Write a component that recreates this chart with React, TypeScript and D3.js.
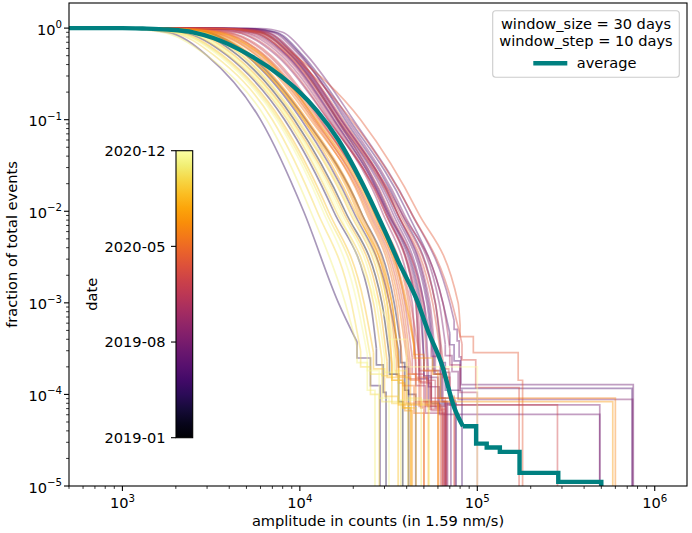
import * as d3 from "d3";

const W = 692;
const H = 533;
const plot = { left: 69, right: 687, top: 3, bottom: 486 };
const FONT = "DejaVu Sans, sans-serif";

// fraction levels at which each window's amplitude was read
const fracLevels = [0.99, 0.9, 0.5, 0.1, 0.01, 0.001];

// [colour position on the date bar, amplitudes at fracLevels, event count N, largest event amplitudes]
type Row = [number, number[], number, number[]];
const windows: Row[] = [
  [0.30, [6000, 8000, 11000, 20000, 42000, 70000], 7800, [74000, 77000, 79000, 81000, 757000]],
  [0.22, [5200, 7400, 10400, 19000, 40000, 64000], 8600, [70000, 74000, 80000, 745000]],
  [0.35, [4800, 7000, 10000, 18500, 38000, 61000], 11300, [66000, 72000, 78000, 750000]],
  [0.55, [4200, 6400, 9500, 17500, 36000, 58000], 13000, [64000, 70000, 283000]],
  [0.62, [3800, 6000, 9400, 22000, 46000, 78000], 7000, [80000, 95000, 170000, 180000]],
  [0.58, [3600, 5800, 9000, 19500, 42000, 72000], 8400, [82000, 98000, 172000]],
  [0.40, [4400, 6600, 9600, 17000, 35000, 54000], 12000, [58000, 64000, 68000]],
  [0.28, [4000, 6200, 9300, 16500, 34000, 52000], 11000, [56000, 62000, 71000]],
  [0.50, [3500, 5600, 8600, 16000, 32000, 49000], 14000, [52000, 58000, 63000]],
  [0.18, [3800, 6000, 9000, 16200, 31500, 48000], 12500, [50000, 55000, 76000]],
  [0.33, [3200, 5300, 8400, 15500, 31000, 47000], 13000, [50000, 60000, 490000]],
  [0.48, [3000, 5000, 8200, 15200, 30000, 46000], 15000, [48000, 55000, 64000]],
  [0.26, [3400, 5500, 8500, 15600, 30500, 45000], 13500, [47000, 53000, 67000]],
  [0.42, [2800, 4800, 7900, 14800, 29000, 43000], 16000, [45000, 51000, 65000]],
  [0.54, [2600, 4500, 7600, 14500, 30000, 45000], 14500, [47000, 54000, 66000]],
  [0.38, [2500, 4400, 7400, 14400, 31000, 50000], 11500, [55000, 62000, 70000, 75000]],
  [0.20, [5000, 7200, 10200, 18000, 37000, 58000], 9000, [62000, 66000, 82000]],
  [0.46, [3900, 6100, 9100, 17000, 37000, 64000], 9500, [70000, 80000, 100000]],
  [0.60, [3300, 5400, 8700, 16500, 35000, 56000], 10500, [62000, 69000, 74000]],
  [0.24, [4300, 6500, 9400, 17200, 35000, 53000], 12000, [57000, 63000, 66000]],
  [0.31, [3700, 5900, 8900, 16300, 33000, 50000], 16500, [53000, 61000, 490000]],
  [0.72, [2000, 3500, 6200, 12500, 26000, 40000], 11000, [44000, 50000, 60000, 600000]],
  [0.66, [1900, 3300, 6000, 12000, 25000, 38000], 14000, [42000, 48000, 50000]],
  [0.70, [1700, 3100, 5700, 11500, 24000, 36000], 12000, [40000, 45000, 60000]],
  [0.64, [2200, 3700, 6400, 12800, 27000, 41000], 13000, [45000, 52000, 62000]],
  [0.76, [1600, 3000, 5400, 11000, 22000, 33000], 15000, [36000, 39000, 43000]],
  [0.68, [1800, 3200, 5800, 11800, 23500, 35000], 16000, [38000, 44000, 50100]],
  [0.74, [1500, 2900, 5300, 10800, 21500, 32000], 12500, [35000, 40000, 60200]],
  [0.60, [2100, 3600, 6300, 12200, 24500, 37000], 13500, [41000, 47000, 64000]],
  [0.78, [1400, 2700, 5000, 10500, 21000, 31000], 14000, [33000, 38000, 42000]],
  [0.52, [2300, 3900, 6700, 13000, 26000, 39000], 12000, [43000, 50000, 67000]],
  [0.77, [1900, 3400, 6100, 12300, 25500, 39500], 12000, [44000, 56000, 62000, 580000]],
  [0.56, [2400, 4000, 6900, 13200, 26500, 42000], 11000, [47000, 55000, 66000]],
  [0.95, [900, 1700, 3000, 6500, 11500, 18000], 9000, [21000, 24000, 26500]],
  [0.90, [1000, 1900, 3300, 7000, 12500, 19500], 10000, [22000, 25000, 28000]],
  [0.16, [950, 1800, 3000, 6000, 10500, 16500], 8000, [21000, 25000, 28300]],
  [0.98, [1100, 2000, 3500, 7400, 13500, 21000], 11000, [24000, 28000, 31800]],
  [0.85, [1150, 2100, 3700, 7800, 14500, 23000], 10500, [26000, 30000, 35800]],
  [0.92, [1050, 2000, 3600, 7600, 14000, 22000], 12000, [25000, 29000, 37000]],
  [0.12, [1200, 2200, 3900, 8200, 15500, 25000], 9500, [27000, 29500, 30600]],
  [0.88, [1250, 2300, 4000, 8500, 16000, 26000], 12500, [29000, 33000, 40700]],
  [0.96, [1300, 2400, 4200, 8800, 17000, 27000], 11500, [30000, 36000, 53600]],
  [0.82, [1350, 2500, 4300, 9000, 17500, 28000], 13000, [31000, 36000, 42400]],
  [0.05, [1400, 2600, 4500, 9300, 18000, 29000], 12000, [32000, 36000, 38000]],
  [1.00, [1200, 2300, 4100, 8700, 16500, 27500], 5000, [32000, 40000, 100000]],
  [0.86, [1450, 2700, 4700, 9600, 19000, 30000], 14000, [33000, 38000, 45200]],
  [0.93, [1500, 2800, 4800, 9800, 19500, 31000], 11000, [34000, 40000, 48300]],
  [0.15, [1600, 2900, 5000, 10200, 20000, 32000], 10000, [36000, 41000, 45000]],
  [0.80, [1550, 2900, 5100, 10500, 20500, 33000], 13000, [36000, 42000, 53000]],
  [0.10, [1700, 3000, 5200, 10800, 22000, 34000], 9000, [37000, 39000, 41000]],
];

// average curve: smooth part, then the stepped tail
const avgSmooth: [number, number][] = [
  [400, 1], [1000, 1], [1300, 0.99], [1800, 0.965], [2500, 0.9], [3250, 0.78],
  [5000, 0.53], [7800, 0.3], [9700, 0.21], [12500, 0.125], [16500, 0.06],
  [22000, 0.022], [29900, 0.0063], [36000, 0.0028], [45700, 0.00107],
  [52600, 0.0005], [62700, 0.00022], [74500, 0.00007], [83000, 0.000045],
];
const avgSteps: [number, number][] = [
  [83000, 0.000045], [98500, 0.000029], [113000, 0.0000263], [134000, 0.0000236],
  [173000, 0.0000139], [286000, 0.0000111], [500000, 1e-7],
];

const cbarLabels = ["2019-01", "2019-08", "2020-05", "2020-12"];
const cbarTicks = [0, 1 / 3, 2 / 3, 1];

const x = d3.scaleLog().domain([500, 1.52e6]).range([plot.left, plot.right]);
const y = d3.scaleLog().domain([1e-5, 1.88]).range([plot.bottom, plot.top]);

const smoothLine = d3
  .line<[number, number]>()
  .x((d) => x(d[0]))
  .y((d) => y(d[1]))
  .curve(d3.curveMonotoneX);
const stepLine = d3
  .line<[number, number]>()
  .x((d) => x(d[0]))
  .y((d) => y(Math.max(d[1], 1e-7)))
  .curve(d3.curveStepAfter);

function windowPath(r: Row): string {
  const [, amps, n, tail] = r;
  const k = tail.length;
  const smooth: [number, number][] = [[400, 1], ...amps.map((a, i) => [a, fracLevels[i]] as [number, number]), [tail[0], k / n]];
  const steps: [number, number][] = [[tail[0], k / n], ...tail.map((e, i) => [e, (k - 1 - i) / n] as [number, number])];
  return (smoothLine(smooth) ?? "") + (stepLine(steps) ?? "");
}

function Pow({ e }: { e: number }) {
  const s = e < 0 ? "\u2212" + Math.abs(e) : String(e);
  return (
    <>
      <tspan>10</tspan>
      <tspan dy={-6.5} fontSize={10.2}>{s}</tspan>
    </>
  );
}

export default function App() {
  const xTicks = x.ticks();
  const yTicks = y.ticks();
  const isMajor = (v: number) => Math.abs(Math.log10(v) - Math.round(Math.log10(v))) < 1e-9;
  const sorted = [...windows].sort((a, b) => a[0] - b[0]);

  const cb = { x: 176, y: 150.7, w: 16.7, h: 287 };
  const cbY = d3.scaleLinear().domain([0, 1]).range([cb.y + cb.h, cb.y]);
  const stops = d3.range(0, 1.0001, 0.05);

  return (
    <svg width={W} height={H} style={{ display: "block", position: "absolute", left: 0, top: 0 }} fontFamily={FONT}>
      <defs>
        <clipPath id="plotclip">
          <rect x={plot.left} y={plot.top} width={plot.right - plot.left} height={plot.bottom - plot.top} />
        </clipPath>
        <linearGradient id="inferno" x1="0" y1="1" x2="0" y2="0">
          {stops.map((t) => (
            <stop key={t} offset={t} stopColor={d3.interpolateInferno(t)} />
          ))}
        </linearGradient>
      </defs>
      <rect width={W} height={H} fill="white" />

      <g clipPath="url(#plotclip)" fill="none">
        {sorted.map((r, i) => (
          <path key={i} d={windowPath(r)} stroke={d3.interpolateInferno(r[0])} strokeOpacity={0.42} strokeWidth={1.7} />
        ))}
        <path d={(smoothLine(avgSmooth) ?? "") + (stepLine(avgSteps) ?? "")} stroke="#008080" strokeWidth={4.4} strokeLinejoin="miter" />
      </g>

      {/* axes frame */}
      <rect x={plot.left} y={plot.top} width={plot.right - plot.left} height={plot.bottom - plot.top} fill="none" stroke="black" strokeWidth={1.1} />

      {/* x ticks */}
      {xTicks.map((v, i) => {
        const px = x(v);
        const major = isMajor(v);
        return (
          <g key={"x" + i}>
            <line x1={px} x2={px} y1={plot.bottom} y2={plot.bottom + (major ? 5 : 2.9)} stroke="black" strokeWidth={major ? 1.1 : 0.8} />
            {major && (
              <text x={px} y={508} textAnchor="middle" fontSize={14.6}>
                <Pow e={Math.round(Math.log10(v))} />
              </text>
            )}
          </g>
        );
      })}
      {/* y ticks */}
      {yTicks.map((v, i) => {
        const py = y(v);
        const major = isMajor(v);
        return (
          <g key={"y" + i}>
            <line x1={plot.left - (major ? 5 : 2.9)} x2={plot.left} y1={py} y2={py} stroke="black" strokeWidth={major ? 1.1 : 0.8} />
            {major && (
              <text x={62} y={py + 6.5} textAnchor="end" fontSize={14.6}>
                <Pow e={Math.round(Math.log10(v))} />
              </text>
            )}
          </g>
        );
      })}

      <text x={(plot.left + plot.right) / 2} y={526} textAnchor="middle" fontSize={14.6}>
        amplitude in counts (in 1.59 nm/s)
      </text>
      <text transform={`translate(16.5, ${(plot.top + plot.bottom) / 2}) rotate(-90)`} textAnchor="middle" fontSize={14.6}>
        fraction of total events
      </text>

      {/* colour bar */}
      <rect x={cb.x} y={cb.y} width={cb.w} height={cb.h} fill="url(#inferno)" stroke="black" strokeWidth={1.1} />
      {cbarTicks.map((t, i) => (
        <g key={"c" + i}>
          <line x1={cb.x - 5} x2={cb.x} y1={cbY(t)} y2={cbY(t)} stroke="black" strokeWidth={1.1} />
          <text x={cb.x - 10.5} y={cbY(t) + 5.2} textAnchor="end" fontSize={14.6}>
            {cbarLabels[i]}
          </text>
        </g>
      ))}
      <text transform={`translate(96.5, ${cb.y + cb.h / 2}) rotate(-90)`} textAnchor="middle" fontSize={14.6}>
        date
      </text>

      {/* legend */}
      <rect x={492.7} y={10.7} width={186.6} height={66.6} rx={3} fill="white" fillOpacity={0.8} stroke="#cccccc" strokeWidth={1.1} />
      <text x={586} y={28.5} textAnchor="middle" fontSize={14.6}>window_size = 30 days</text>
      <text x={586} y={46} textAnchor="middle" fontSize={14.6}>window_step = 10 days</text>
      <line x1={533.3} x2={567.3} y1={63.3} y2={63.3} stroke="#008080" strokeWidth={4.4} />
      <text x={576.7} y={68} fontSize={14.6}>average</text>
    </svg>
  );
}
